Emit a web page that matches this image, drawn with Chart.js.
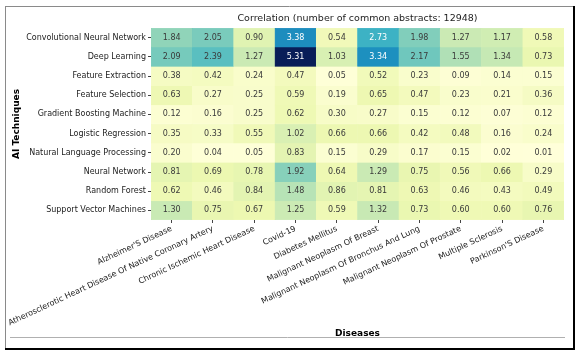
<!DOCTYPE html>
<html><head><meta charset="utf-8">
<script src="https://cdn.jsdelivr.net/npm/chart.js@4/dist/chart.umd.min.js"></script>
<style>html,body{margin:0;padding:0;background:#fff}#wrap{width:580px;height:356px;position:relative}</style>
</head><body><div id="wrap"><canvas id="c" width="580" height="356"></canvas></div>
<script>
const diseases = ["Alzheimer'S Disease", "Atherosclerotic Heart Disease Of Native Coronary Artery", "Chronic Ischemic Heart Disease", "Covid-19", "Diabetes Mellitus", "Malignant Neoplasm Of Breast", "Malignant Neoplasm Of Bronchus And Lung", "Malignant Neoplasm Of Prostate", "Multiple Sclerosis", "Parkinson'S Disease"];
const techniques = ["Convolutional Neural Network", "Deep Learning", "Feature Extraction", "Feature Selection", "Gradient Boosting Machine", "Logistic Regression", "Natural Language Processing", "Neural Network", "Random Forest", "Support Vector Machines"];
const cnnRow = [1.84, 2.05, 0.90, 3.38, 0.54, 2.73, 1.98, 1.27, 1.17, 0.58];
const deepLearningRow = [2.09, 2.39, 1.27, 5.31, 1.03, 3.34, 2.17, 1.55, 1.34, 0.73];
const featureExtractionRow = [0.38, 0.42, 0.24, 0.47, 0.05, 0.52, 0.23, 0.09, 0.14, 0.15];
const featureSelectionRow = [0.63, 0.27, 0.25, 0.59, 0.19, 0.65, 0.47, 0.23, 0.21, 0.36];
const gbmRow = [0.12, 0.16, 0.25, 0.62, 0.30, 0.27, 0.15, 0.12, 0.07, 0.12];
const logisticRow = [0.35, 0.33, 0.55, 1.02, 0.66, 0.66, 0.42, 0.48, 0.16, 0.24];
const nlpRow = [0.20, 0.04, 0.05, 0.83, 0.15, 0.29, 0.17, 0.15, 0.02, 0.01];
const neuralNetRow = [0.81, 0.69, 0.78, 1.92, 0.64, 1.29, 0.75, 0.56, 0.66, 0.29];
const randomForestRow = [0.62, 0.46, 0.84, 1.48, 0.86, 0.81, 0.63, 0.46, 0.43, 0.49];
const svmRow = [1.30, 0.75, 0.67, 1.25, 0.59, 1.32, 0.73, 0.60, 0.60, 0.76];
const rows = [cnnRow, deepLearningRow, featureExtractionRow, featureSelectionRow, gbmRow, logisticRow, nlpRow, neuralNetRow, randomForestRow, svmRow];
const chartTitle = "Correlation (number of common abstracts: 12948)";

const FONT = "'DejaVu Sans', sans-serif";
const allVals = rows.flat();
const vmin = Math.min(...allVals), vmax = Math.max(...allVals);
const stops = [[255,255,217],[237,248,177],[199,233,180],[127,205,187],[65,182,196],[29,145,192],[34,94,168],[37,52,148],[8,29,88]];
function norm(v){ return (v - vmin) / (vmax - vmin); }
function ylgnbu(v){
  let t = Math.max(0, Math.min(1, norm(v))) * (stops.length - 1);
  const i = Math.min(stops.length - 2, Math.floor(t)); const f = t - i;
  const a = stops[i], b = stops[i+1];
  return 'rgb(' + a.map((c,k)=>Math.round(c + (b[k]-c)*f)).join(',') + ')';
}

const datasets = rows.map((row, i) => ({
  label: techniques[i],
  data: row.map(() => [i, i + 1]),
  backgroundColor: row.map(ylgnbu),
  borderColor: row.map(ylgnbu),
  borderWidth: 0.5,
  borderSkipped: false,
  barPercentage: 1,
  categoryPercentage: 1,
  grouped: false,
  xAxisID: 'x', yAxisID: 'y'
}));

const framePlugin = {
  id: 'frame',
  beforeDraw(chart){
    const ctx = chart.ctx; ctx.save();
    ctx.fillStyle = '#fff'; ctx.fillRect(0,0,chart.width,chart.height);
    ctx.strokeStyle = '#8a8a8a'; ctx.lineWidth = 1;
    ctx.beginPath(); ctx.moveTo(5, 6.5); ctx.lineTo(574, 6.5); ctx.moveTo(5.5, 6); ctx.lineTo(5.5, 349); ctx.stroke();
    ctx.strokeStyle = '#000'; ctx.lineWidth = 2;
    ctx.beginPath(); ctx.moveTo(574, 6); ctx.lineTo(574, 350); ctx.moveTo(5, 349); ctx.lineTo(575, 349); ctx.stroke();
    ctx.strokeStyle = '#b0b0b0'; ctx.lineWidth = 1;
    ctx.beginPath(); ctx.moveTo(10, 337.5); ctx.lineTo(565, 337.5); ctx.stroke();
    ctx.restore();
  },
  afterDatasetsDraw(chart){
    const ctx = chart.ctx; ctx.save();
    ctx.font = '8px ' + FONT; ctx.textAlign = 'center'; ctx.textBaseline = 'middle';
    rows.forEach((row, i) => {
      const meta = chart.getDatasetMeta(i);
      meta.data.forEach((el, j) => {
        const p = el.getCenterPoint();
        ctx.fillStyle = norm(row[j]) > 0.5 ? '#ffffff' : '#3a3a3a';
        ctx.fillText(row[j].toFixed(2), p.x, p.y);
      });
    });
    const ca = chart.chartArea;
    ctx.fillStyle = '#222'; ctx.font = '9.5px ' + FONT;
    ctx.fillText(chartTitle, (ca.left + ca.right) / 2, ca.top - 9);
    ctx.restore();
  }
};

new Chart(document.getElementById('c'), {
  type: 'bar',
  data: { labels: diseases, datasets },
  options: {
    responsive: false, animation: false,
    layout: { padding: { top: 28, right: 16, left: 0, bottom: 0 } },
    plugins: { legend: { display: false }, tooltip: { enabled: false }, title: { display: false } },
    scales: {
      x: {
        type: 'category', position: 'bottom', offset: true,
        grid: { display: true, drawOnChartArea: false, drawTicks: true, tickLength: 3, tickColor: '#444', offset: false },
        border: { display: false },
        ticks: { minRotation: 25, maxRotation: 25, autoSkip: false, color: '#222', padding: 1, font: { family: FONT, size: 8 } },
        title: { display: true, text: 'Diseases', color: '#000', font: { family: FONT, size: 9, weight: 'bold' }, padding: { top: 0, bottom: 17 } },
        afterFit(s){ s.height = 136; }
      },
      y: { type: 'linear', min: 0, max: 10, reverse: true, display: false },
      yCat: {
        type: 'category', labels: techniques, position: 'left', offset: true,
        grid: { display: true, drawOnChartArea: false, drawTicks: true, tickLength: 3, tickColor: '#444', offset: false },
        border: { display: false },
        ticks: { color: '#222', padding: 2, font: { family: FONT, size: 8 } },
        title: { display: true, text: 'AI Techniques', color: '#000', font: { family: FONT, size: 9, weight: 'bold' }, padding: { top: 11, bottom: 0 } },
        afterFit(s){ s.width = 151; }
      }
    }
  },
  plugins: [framePlugin]
});
</script></body></html>
